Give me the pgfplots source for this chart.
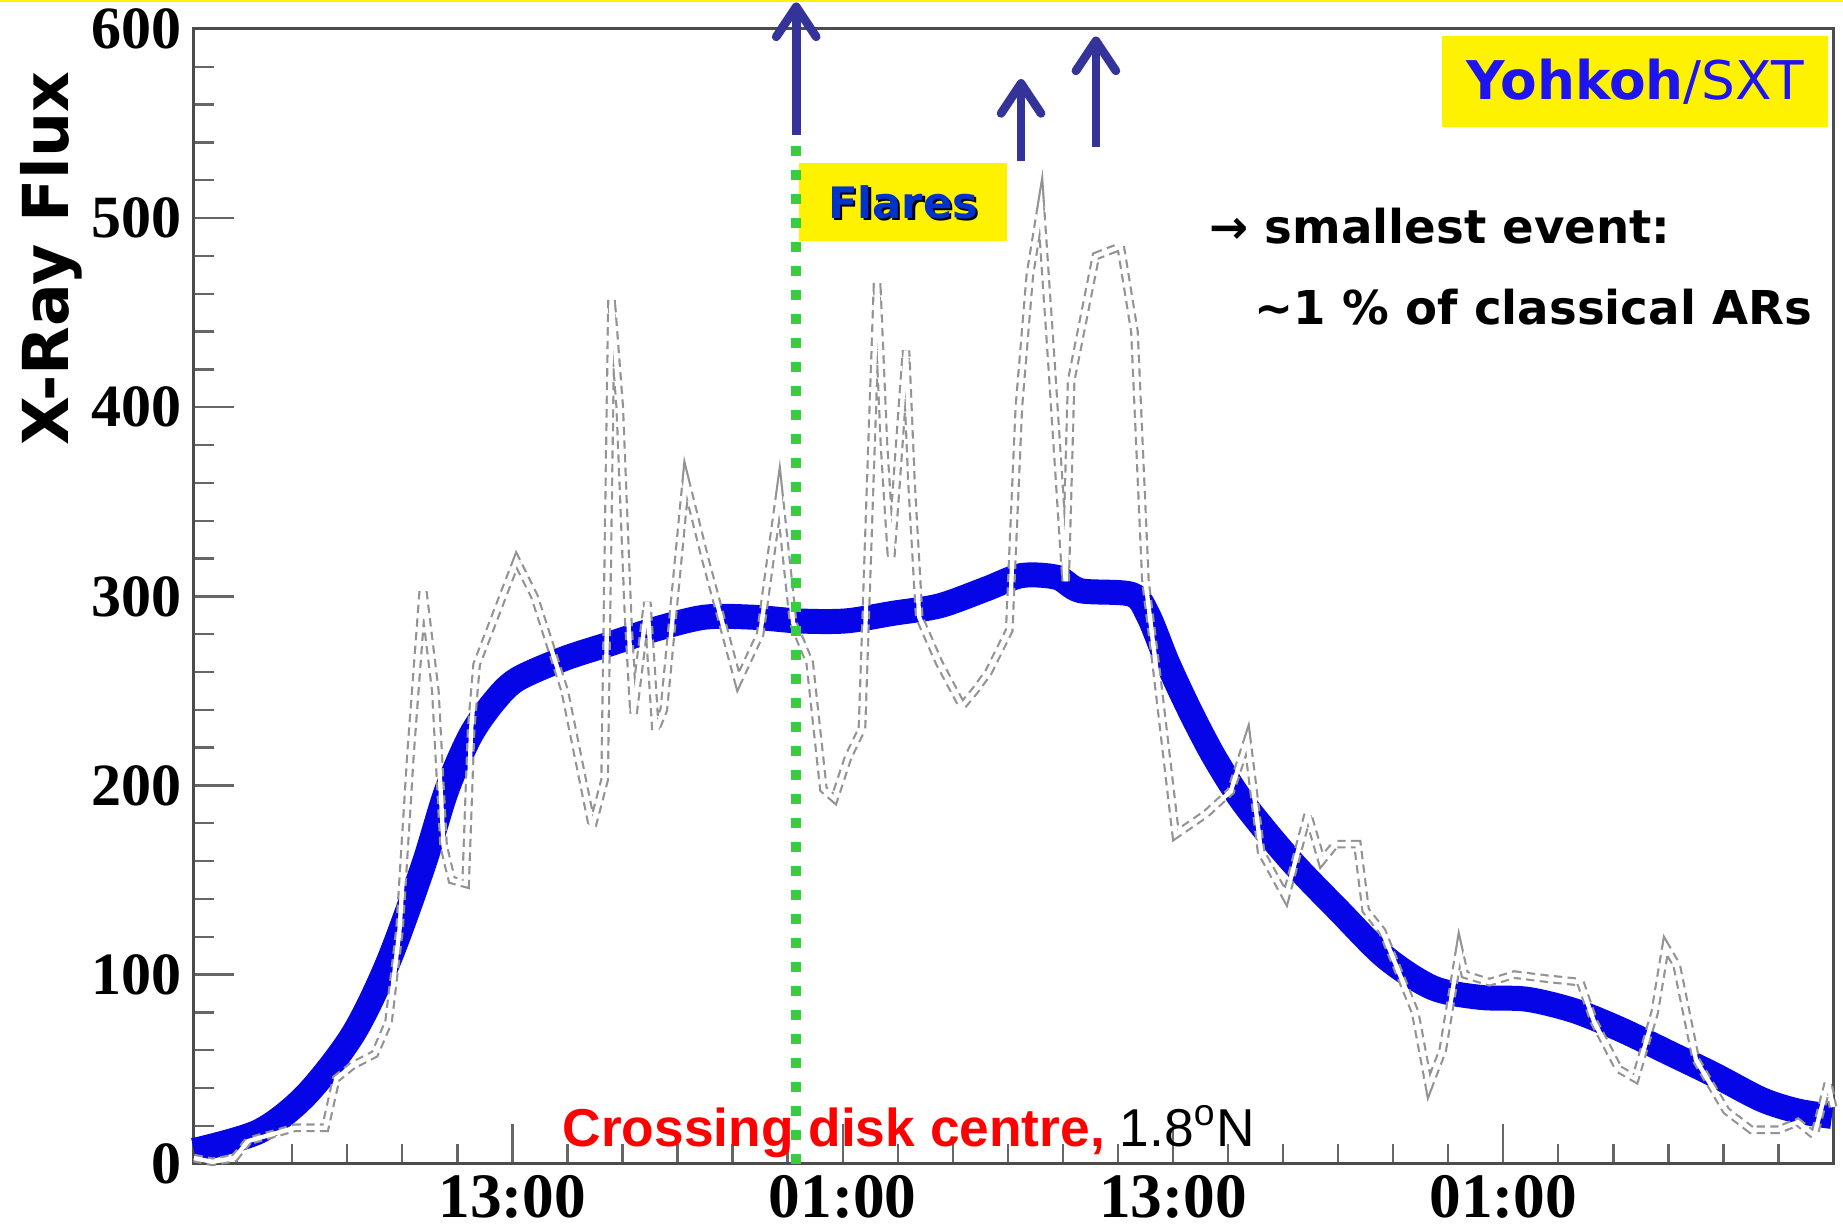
\documentclass[border=0pt]{standalone}
\usepackage{fontspec}
\setmainfont{Liberation Serif}
\newfontfamily\comic{DejaVu Sans}
\newfontfamily\arial{Liberation Sans}
\usepackage{pgfplots}
\usepackage{pgfplotstable}
\pgfplotsset{compat=1.18}
\usetikzlibrary{arrows.meta}
\definecolor{bandblue}{RGB}{5,5,232}
\definecolor{arrowblue}{RGB}{51,51,153}
\definecolor{dgreen}{RGB}{55,205,60}
\definecolor{sxtblue}{RGB}{30,20,240}
\definecolor{flareblue}{RGB}{0,51,204}

\pgfplotstableread{
h f
1.43 7
3.78 17
5.48 36
7.19 68
8.47 106
9.75 157
10.60 197
11.46 226
12.31 244
13.16 256
14.87 267
16.57 275
18.28 283
19.99 289
21.69 289
23.40 287
25.11 287
26.81 291
28.52 295
30.23 304
31.50 311
32.79 310
33.64 303
35.50 301
36.10 290
36.80 265
37.60 240
38.50 215
39.60 190
41.30 160
43.02 134
44.73 109
46.44 93
48.14 88
49.85 87
51.56 81
53.26 71
54.97 59
56.67 47
58.38 34
59.66 28
60.94 25
}\band

\pgfplotstableread{
h f
1.43 3
2.1 1
2.9 3
3.4 12
5.1 19
6.2 19
6.6 45
7.2 52
8.0 58
8.5 75
8.9 124
9.3 217
9.75 304
10.2 250
10.5 168
10.8 150
11.3 148
11.5 230
11.7 264
13.15 319
13.8 300
14.9 250
15.9 178
16.35 203
16.6 457
16.9 400
17.2 290
17.4 238
17.9 297
18.2 229
18.5 240
19.3 361
20.0 320
21.2 255
22.0 280
22.7 354
23.2 286
23.8 265
24.3 198
24.7 193
25.2 215
25.7 230
26.0 360
26.25 466
26.5 380
26.76 320
27.3 430
27.5 360
27.78 289
28.5 265
29.34 242
29.8 250
30.3 260
31.05 282
31.4 400
31.8 470
32.2 506
32.6 420
33.1 308
33.3 414
34.2 480
35.1 485
35.6 440
36.0 308
36.4 261
37.1 174
38.2 185
39.1 197
39.7 224
40.2 165
41.1 141
41.9 185
42.4 160
42.9 169
43.7 169
44.0 134
44.6 123
45.8 80
46.3 41
46.8 60
47.4 113
47.6 100
48.5 96
49.4 100
50.5 98
51.8 96
52.3 75
53.2 50
53.8 45
54.5 80
54.9 115
55.3 105
56.0 55
57.1 28
58.0 18
59.0 18
59.7 22
60.3 15
60.8 43
60.98 30
}\lc

\begin{document}
\begin{tikzpicture}
\begin{axis}[name=ax,
  width=491.8pt, height=340.5pt, scale only axis,
  xmin=1.43, xmax=60.98, ymin=0, ymax=600, clip=false,
  xtick={13,25,37,49}, xticklabels={13:00,01:00,13:00,01:00},
  minor xtick={3,5,...,59},
  ytick={0,100,...,600}, minor y tick num=4,
  tick pos=left, tick align=inside,
  major tick length=12pt, minor tick length=6pt,
  tick style={black!60, line width=0.7pt},
  axis line style={black!70, line width=0.9pt},
  /pgf/number format/assume math mode=true,
  yticklabel style={font=\bfseries\fontsize{18}{18}\selectfont, inner sep=0pt, xshift=-3.5pt},
  xticklabel style={font=\bfseries\fontsize{19}{19}\selectfont},
  ylabel={X-Ray Flux},
  ylabel style={font=\comic\bfseries\fontsize{19}{19}\selectfont, at={(axis description cs:-0.0868,0.798)}, anchor=center},
]
\addplot[bandblue, line width=7.5pt, smooth, tension=0.5] table[x=h,y=f] {\band};
\addplot[gray!85, line width=2.6pt, dash pattern=on 2.5pt off 1.6pt] table[x=h,y=f] {\lc};
\addplot[white, line width=1.3pt] table[x=h,y=f] {\lc};

\node[fill=yellow, minimum width=62.4pt, minimum height=23.4pt, inner sep=0pt] at (axis cs:27.2,508.5) {};
\node[inner sep=0pt, text=black, font=\comic\bfseries\fontsize{13}{13}\selectfont] at ([shift={(0.7pt,-0.7pt)}]axis cs:27.2,508.5) {Flares};
\node[inner sep=0pt, text=flareblue, font=\comic\bfseries\fontsize{13}{13}\selectfont] at (axis cs:27.2,508.5) {Flares};

\node[fill=yellow, minimum width=115.8pt, minimum height=27.3pt, inner sep=0pt, text=sxtblue, font=\comic\fontsize{16}{16}\selectfont] at (axis cs:53.8,572) {{\bfseries Yohkoh}/SXT};

\addplot[dgreen, line width=2.85pt, dash pattern=on 2.85pt off 4.35pt] coordinates {(23.31,0) (23.31,543)};
\addplot[arrowblue, line width=2.6pt, -{Straight Barb[length=9pt,width=12pt,round]}] coordinates {(23.31,544) (23.31,614)};
\addplot[arrowblue, line width=2.6pt, -{Straight Barb[length=9pt,width=12pt,round]}] coordinates {(31.48,530) (31.48,573.5)};
\addplot[arrowblue, line width=2.6pt, -{Straight Barb[length=9pt,width=12pt,round]}] coordinates {(34.2,537.6) (34.2,596)};

\node[anchor=west, inner sep=0pt, font=\comic\bfseries\fontsize{14}{14}\selectfont] at (axis cs:38.3,496) {→ smallest event:};
\node[anchor=west, inner sep=0pt, font=\comic\bfseries\fontsize{14}{14}\selectfont] at (axis cs:39.95,453) {\textasciitilde 1 \% of classical ARs};

\node[anchor=base west, inner sep=0pt, font=\arial\fontsize{16}{16}\selectfont] at (axis cs:14.8,9) {\textcolor{red}{\bfseries Crossing disk centre,} 1.8\textsuperscript{o}N};
\end{axis}
\pgfresetboundingbox
\path[use as bounding box] ([xshift=-58.2pt,yshift=-20.1pt]ax.south west) rectangle ([xshift=3pt,yshift=8.7pt]ax.north east);
\fill[yellow] ([xshift=-58.2pt,yshift=8.7pt]ax.north west) rectangle ([xshift=3pt,yshift=8.1pt]ax.north east);
\end{tikzpicture}
\end{document}
